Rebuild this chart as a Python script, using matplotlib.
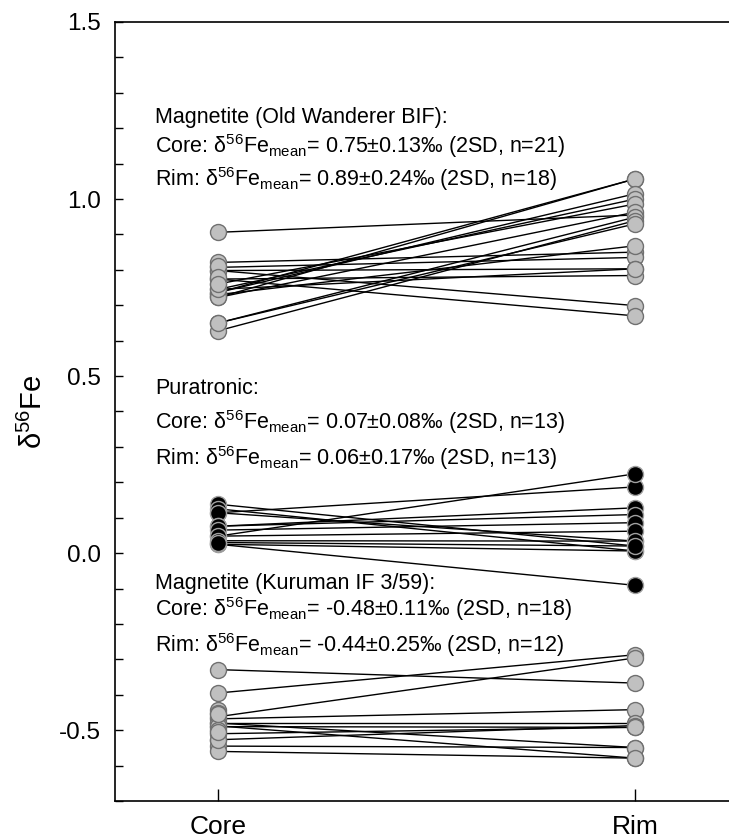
import matplotlib.pyplot as plt
from matplotlib.ticker import MultipleLocator
import numpy as np

plt.rcParams['font.family'] = ['Liberation Sans', 'DejaVu Sans']
plt.rcParams['mathtext.fontset'] = 'custom'
plt.rcParams['mathtext.rm'] = 'Liberation Sans'

# Old Wanderer BIF magnetite: paired core -> rim values
ow_core = [0.906, 0.821, 0.807, 0.798, 0.774, 0.798, 0.774, 0.736, 0.722,
           0.736, 0.745, 0.760, 0.730, 0.722, 0.650, 0.628, 0.650, 0.745]
ow_rim = [0.955, 0.850, 0.835, 0.803, 0.784, 0.699, 0.670, 1.057, 1.057,
          1.015, 1.000, 0.986, 0.868, 0.963, 0.949, 0.939, 0.930, 0.803]
ow_core_extra = [0.812, 0.781, 0.760]

# Puratronic standard
pu_core = [0.114, 0.048, 0.138, 0.125, 0.114, 0.076, 0.076, 0.065, 0.048,
           0.035, 0.025, 0.025, 0.030]
pu_rim = [0.187, 0.224, 0.020, 0.006, 0.034, 0.128, 0.109, 0.086, 0.062,
          0.034, 0.006, -0.091, 0.020]

# Kuruman IF 3/59 magnetite
ku_core = [-0.329, -0.395, -0.462, -0.468, -0.480, -0.490, -0.480, -0.488,
           -0.527, -0.510, -0.545, -0.560]
ku_rim = [-0.367, -0.287, -0.296, -0.442, -0.480, -0.492, -0.549, -0.579,
          -0.487, -0.492, -0.549, -0.579]
ku_core_extra = [-0.442, -0.452, -0.499, -0.527, -0.455, -0.505]

labels = ['Core', 'Rim']

fig = plt.figure(figsize=(7.29, 8.39), dpi=100)
ax = fig.add_axes([0.158, 0.0453, 0.842, 0.9285])

gray = '#c0c0c0'
ms = 11.5


def plot_pairs(ax, core, rim, extra, face, edge):
    for c, r in zip(core, rim):
        ax.plot([0, 1], [c, r], '-', color='black', lw=1.0, zorder=2)
    ax.plot(np.zeros(len(core) + len(extra)), list(core) + list(extra), 'o',
            ms=ms, mfc=face, mec=edge, mew=1.0, zorder=3, clip_on=False)
    ax.plot(np.ones(len(rim)), rim, 'o', ms=ms, mfc=face, mec=edge,
            mew=1.0, zorder=3, clip_on=False)


plot_pairs(ax, ow_core, ow_rim, ow_core_extra, gray, '#707070')
plot_pairs(ax, pu_core, pu_rim, [], 'black', '#a0a0a0')
plot_pairs(ax, ku_core, ku_rim, ku_core_extra, gray, '#707070')

fs = 15.5
d = 'δ$^{\\mathregular{56}}$Fe$_{\\mathregular{mean}}$'
texts = [
    (1.214, 'Magnetite (Old Wanderer BIF):'),
    (1.129, 'Core: ' + d + '= 0.75±0.13‰ (2SD, n=21)'),
    (1.036, 'Rim: ' + d + '= 0.89±0.24‰ (2SD, n=18)'),
    (0.450, 'Puratronic:'),
    (0.350, 'Core: ' + d + '= 0.07±0.08‰ (2SD, n=13)'),
    (0.250, 'Rim: ' + d + '= 0.06±0.17‰ (2SD, n=13)'),
    (-0.102, 'Magnetite (Kuruman IF 3/59):'),
    (-0.178, 'Core: ' + d + '= -0.48±0.11‰ (2SD, n=18)'),
    (-0.280, 'Rim: ' + d + '= -0.44±0.25‰ (2SD, n=12)'),
]
for y, t in texts:
    ax.text(-0.151, y, t, fontsize=fs, va='baseline', ha='left', zorder=4)

ax.set_xlim(-0.247, 1.225)
ax.set_ylim(-0.7, 1.5)
ax.set_xticks([0, 1])
ax.set_xticklabels(labels, fontsize=19)
ax.set_yticks([-0.5, 0.0, 0.5, 1.0, 1.5])
ax.set_yticklabels(['-0.5', '0.0', '0.5', '1.0', '1.5'], fontsize=17.5)
ax.yaxis.set_minor_locator(MultipleLocator(0.1))
ax.tick_params(axis='y', which='both', direction='in', length=6, width=1,
               pad=10)
ax.tick_params(axis='x', direction='in', length=9, width=1, pad=10)
ax.spines['right'].set_visible(False)
for s in ['left', 'top', 'bottom']:
    ax.spines[s].set_linewidth(1.2)
ax.set_ylabel('δ$^{\\mathregular{56}}$Fe', fontsize=21)
ax.yaxis.set_label_coords(-0.11, 0.5)

fig.savefig('out.png', dpi=100)
